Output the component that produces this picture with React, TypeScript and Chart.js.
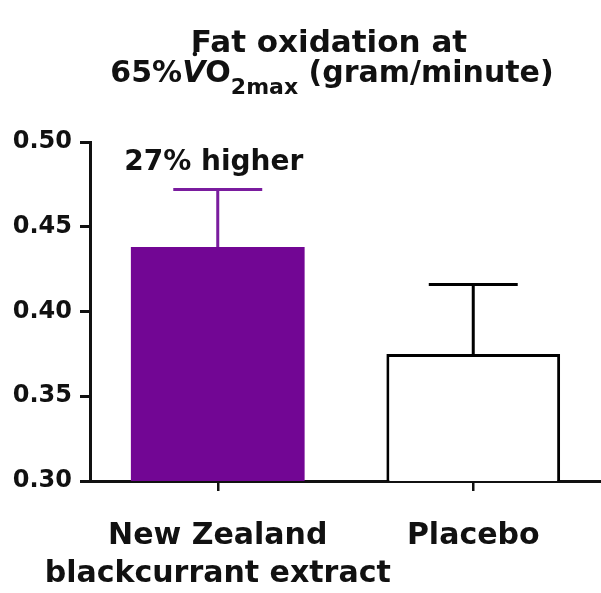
import React, { useEffect, useRef } from "react";
import { Chart, registerables } from "chart.js";

Chart.register(...registerables);

// ---- data ----
const categories: (string | string[])[] = [["New Zealand", "blackcurrant extract"], "Placebo"];
const means = [0.438, 0.375];
const errorsUp = [0.034, 0.041];
const barColors = ["#720694", "#ffffff"];
const barBorderColors = ["#720694", "#000000"];
const barBorderWidths = [0, 3];
const errorColors = ["#7a1c9e", "#000000"];
const yMin = 0.3;
const yMax = 0.5;
const yStep = 0.05;
const titleLine1 = "Fat oxidation at";
const titleLine2 = { pre: "65%", v: "V", o: "O", sub: "2max", post: " (gram/minute)" };
const annotationText = "27% higher";

const FONT = "'DejaVu Sans', 'Liberation Sans', Arial, sans-serif";

const errorBarPlugin = {
  id: "errorBars",
  afterDatasetsDraw(chart: any) {
    const ctx = chart.ctx;
    const meta = chart.getDatasetMeta(0);
    const yScale = chart.scales.y;
    meta.data.forEach((bar: any, i: number) => {
      const top = yScale.getPixelForValue(means[i] + errorsUp[i]);
      const capHalf = bar.width * 0.256;
      ctx.save();
      ctx.strokeStyle = errorColors[i];
      ctx.lineWidth = 3;
      ctx.beginPath();
      ctx.moveTo(bar.x, bar.y);
      ctx.lineTo(bar.x, top);
      ctx.moveTo(bar.x - capHalf, top);
      ctx.lineTo(bar.x + capHalf, top);
      ctx.stroke();
      if (i === 0) {
        ctx.fillStyle = "#111";
        ctx.font = `bold 28px ${FONT}`;
        ctx.textAlign = "center";
        ctx.textBaseline = "alphabetic";
        ctx.fillText(annotationText, bar.x - 4, top - 19);
      }
      ctx.restore();
    });
  },
};

const titlePlugin = {
  id: "customTitle",
  afterDraw(chart: any) {
    const ctx = chart.ctx;
    ctx.save();
    ctx.fillStyle = "#111";
    ctx.textBaseline = "alphabetic";
    ctx.textAlign = "left";
    // line 1
    ctx.font = `bold 31px ${FONT}`;
    const w1 = ctx.measureText(titleLine1).width;
    ctx.fillText(titleLine1, 329 - w1 / 2, 52);
    // line 2
    const mainFont = `bold 30px ${FONT}`;
    const italFont = `italic bold 30px ${FONT}`;
    const subFont = `bold 22px ${FONT}`;
    ctx.font = mainFont;
    const wPre = ctx.measureText(titleLine2.pre).width;
    const wO = ctx.measureText(titleLine2.o).width;
    const wPost = ctx.measureText(titleLine2.post).width;
    ctx.font = italFont;
    const wV = ctx.measureText(titleLine2.v).width;
    ctx.font = subFont;
    const wSub = ctx.measureText(titleLine2.sub).width;
    const total = wPre + wV + wO + wSub + wPost;
    let x = 332 - total / 2;
    const base = 82;
    ctx.font = mainFont;
    ctx.fillText(titleLine2.pre, x, base);
    x += wPre;
    ctx.font = italFont;
    ctx.fillText(titleLine2.v, x, base);
    // dot over V
    ctx.beginPath();
    ctx.arc(x + wV * 0.55, base - 28, 2.3, 0, Math.PI * 2);
    ctx.fill();
    x += wV;
    ctx.font = mainFont;
    ctx.fillText(titleLine2.o, x, base);
    x += wO;
    ctx.font = subFont;
    ctx.fillText(titleLine2.sub, x, base + 12);
    x += wSub;
    ctx.font = mainFont;
    ctx.fillText(titleLine2.post, x, base);
    ctx.restore();
  },
};

export default function App() {
  const ref = useRef<HTMLCanvasElement | null>(null);
  useEffect(() => {
    if (!ref.current) return;
    const chart = new Chart(ref.current, {
      type: "bar",
      data: {
        labels: categories as any,
        datasets: [
          {
            data: means,
            backgroundColor: barColors,
            borderColor: barBorderColors,
            borderWidth: barBorderWidths,
            borderSkipped: "bottom",
            barPercentage: 1,
            categoryPercentage: 0.68,
          },
        ],
      },
      options: {
        animation: false,
        responsive: false,
        events: [],
        layout: { padding: { top: 142, left: 0, right: 0, bottom: 0 } },
        plugins: {
          legend: { display: false },
          title: { display: false },
          tooltip: { enabled: false },
        },
        scales: {
          x: {
            offset: true,
            grid: {
              offset: false,
              drawOnChartArea: false,
              drawTicks: true,
              tickLength: 10,
              color: "#111",
              lineWidth: 2.5,
            },
            border: { display: true, color: "#111", width: 3 },
            ticks: {
              color: "#111",
              padding: 26,
              maxRotation: 0,
              autoSkip: false,
              font: { family: FONT, size: 30, weight: "bold", lineHeight: 38 / 30 },
            },
            afterFit(scale: any) {
              scale.height = 112;
              scale.paddingLeft = 0;
              scale.paddingRight = 0;
            },
          },
          y: {
            min: yMin,
            max: yMax,
            grid: {
              drawOnChartArea: false,
              drawTicks: true,
              tickLength: 10,
              color: "#111",
              lineWidth: 3,
            },
            border: { display: true, color: "#111", width: 3 },
            ticks: {
              stepSize: yStep,
              color: "#111",
              padding: 8,
              font: { family: FONT, size: 24, weight: "bold" },
              callback: (v: any) => Number(v).toFixed(2),
            },
            afterFit(scale: any) {
              scale.width = 90;
              scale.paddingTop = 0;
              scale.paddingBottom = 0;
            },
          },
        },
      },
      plugins: [errorBarPlugin, titlePlugin],
    });
    return () => chart.destroy();
  }, []);
  return (
    <canvas
      ref={ref}
      width={601}
      height={593}
      style={{ position: "absolute", left: 0, top: 0, display: "block", background: "#fff" }}
    />
  );
}
